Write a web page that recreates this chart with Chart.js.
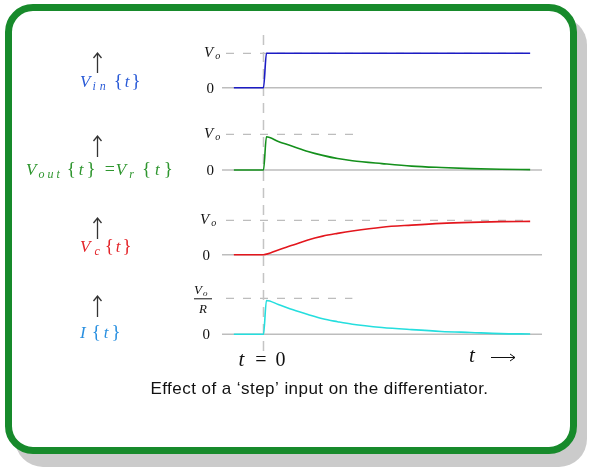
<!DOCTYPE html>
<html>
<head>
<meta charset="utf-8">
<script src="https://cdn.jsdelivr.net/npm/chart.js@4.4.1/dist/chart.umd.min.js"></script>
<style>
  body { margin: 0; background: #fff; }
  #wrap { position: relative; width: 592px; height: 473px; }
  #frame {
    position: absolute; left: 5px; top: 4px; width: 572px; height: 450px;
    box-sizing: border-box; border: 7px solid #178a2b; border-radius: 28px;
    background: #fff; box-shadow: 10px 13px 0 #cbcbcb;
  }
  #chart { position: absolute; left: 0; top: 0; }
</style>
</head>
<body>
<div id="wrap">
  <div id="frame"></div>
  <canvas id="chart" width="592" height="473"></canvas>
</div>
<script>
// time points (t = 0 is the step) and the four traces
const tStep = [-1, 0, 0.1, 9];
const vIn = [0, 0, 1, 1];

const tDecay = [-1, 0, 0.1, 0.5, 1, 1.5, 2, 2.5, 3, 4, 5, 6, 7, 8, 9];
const vOut = [0, 0, 0.93, 0.80, 0.66, 0.52, 0.41, 0.32, 0.26, 0.18, 0.11, 0.07, 0.04, 0.02, 0.01];
const iCur = [0, 0, 0.94, 0.83, 0.68, 0.55, 0.43, 0.35, 0.28, 0.19, 0.13, 0.08, 0.05, 0.02, 0.01];

const tCharge = [-1, 0, 0.5, 1, 1.5, 2, 2.5, 3, 4, 5, 6, 7, 8, 9];
const vC = [0, 0, 0.14, 0.28, 0.43, 0.54, 0.62, 0.69, 0.80, 0.86, 0.91, 0.94, 0.96, 0.97];

const caption = 'Effect of a \u2018step\u2019 input on the differentiator.';

function pts(xs, ys) {
  return xs.map((x, i) => ({ x: x, y: ys[i] }));
}

const SERIF = '"Liberation Serif", "DejaVu Serif", serif';
const fI = 'italic 17px ' + SERIF;   // italic symbol
const fS = 'italic 12px ' + SERIF;   // subscript
const fB = '19px ' + SERIF;          // braces

// draw a row of text pieces one after another
function drawParts(ctx, x, y, parts, color) {
  ctx.fillStyle = color;
  ctx.textAlign = 'left';
  ctx.textBaseline = 'alphabetic';
  let cx = x;
  for (const p of parts) {
    cx += p.gap || 0;
    ctx.font = p.f;
    ctx.fillText(p.s, cx, y + (p.dy || 0));
    cx += ctx.measureText(p.s).width;
  }
}

function upArrow(ctx, x, y0, y1) {
  ctx.save();
  ctx.strokeStyle = '#333';
  ctx.lineWidth = 1.3;
  ctx.beginPath();
  ctx.moveTo(x, y1); ctx.lineTo(x, y0);
  ctx.moveTo(x - 4, y0 + 5); ctx.lineTo(x, y0); ctx.lineTo(x + 4, y0 + 5);
  ctx.stroke();
  ctx.restore();
}

const panels = [
  { axis: 'yIn', dashTo: 9, labelX: 214 },
  { axis: 'yOut', dashTo: 3.1, labelX: 214 },
  { axis: 'yC', dashTo: 9, labelX: 210 },
  { axis: 'yI', dashTo: 3.0, labelX: 210, fraction: true }
];

const decor = {
  id: 'decor',
  beforeDatasetsDraw(chart) {
    const ctx = chart.ctx, a = chart.chartArea, xs = chart.scales.x;
    ctx.save();
    panels.forEach(p => {
      const ys = chart.scales[p.axis];
      // zero line
      ctx.strokeStyle = '#bdbdbd';
      ctx.lineWidth = 1.5;
      ctx.setLineDash([]);
      ctx.beginPath();
      ctx.moveTo(a.left, ys.getPixelForValue(0));
      ctx.lineTo(a.right, ys.getPixelForValue(0));
      ctx.stroke();
      // dashed level line at Vo
      ctx.lineWidth = 1.2;
      ctx.setLineDash([8, 9]);
      ctx.beginPath();
      ctx.moveTo(a.left + 4, ys.getPixelForValue(1));
      ctx.lineTo(xs.getPixelForValue(p.dashTo), ys.getPixelForValue(1));
      ctx.stroke();
    });
    // t = 0 marker
    ctx.strokeStyle = '#c4c4c4';
    ctx.lineWidth = 1.5;
    ctx.setLineDash([10, 7]);
    ctx.beginPath();
    ctx.moveTo(xs.getPixelForValue(0), a.top);
    ctx.lineTo(xs.getPixelForValue(0), a.bottom + 2);
    ctx.stroke();
    ctx.restore();
  },
  afterDraw(chart) {
    const ctx = chart.ctx, xs = chart.scales.x;
    ctx.save();
    // level labels
    panels.forEach(p => {
      const ys = chart.scales[p.axis];
      const y1 = ys.getPixelForValue(1), y0 = ys.getPixelForValue(0);
      ctx.fillStyle = '#111';
      ctx.textBaseline = 'middle';
      ctx.textAlign = 'right';
      ctx.font = '15px ' + SERIF;
      ctx.fillText('0', p.labelX, y0 + 1);
      if (p.fraction) {
        drawParts(ctx, p.labelX - 16, y1 - 4, [{ s: 'V', f: 'italic 13px ' + SERIF }, { s: 'o', f: 'italic 9px ' + SERIF, dy: 2, gap: 1 }], '#111');
        ctx.strokeStyle = '#111';
        ctx.lineWidth = 1;
        ctx.beginPath();
        ctx.moveTo(p.labelX - 16, y1 + 0.5);
        ctx.lineTo(p.labelX + 2, y1 + 0.5);
        ctx.stroke();
        drawParts(ctx, p.labelX - 11, y1 + 15, [{ s: 'R', f: 'italic 13px ' + SERIF }], '#111');
      } else {
        drawParts(ctx, p.labelX - 10, y1 + 4, [{ s: 'V', f: 'italic 15px ' + SERIF }, { s: 'o', f: 'italic 10px ' + SERIF, dy: 2, gap: 2 }], '#111');
      }
    });

    // signal names on the left
    upArrow(ctx, 97.5, 53, 73);
    drawParts(ctx, 80, 87, [
      { s: 'V', f: fI }, { s: 'i', f: fS, dy: 3, gap: 2 }, { s: 'n', f: fS, dy: 3, gap: 4 },
      { s: '{', f: fB, gap: 8 }, { s: 't', f: fI, gap: 2 }, { s: '}', f: fB, gap: 2 }
    ], '#2a5bd7');

    upArrow(ctx, 97.5, 136, 157);
    drawParts(ctx, 26, 175, [
      { s: 'V', f: fI }, { s: 'o', f: fS, dy: 3, gap: 2 }, { s: 'u', f: fS, dy: 3, gap: 3 }, { s: 't', f: fS, dy: 3, gap: 3 },
      { s: '{', f: fB, gap: 7 }, { s: 't', f: fI, gap: 3 }, { s: '}', f: fB, gap: 3 },
      { s: '=', f: '18px ' + SERIF, gap: 9 }, { s: 'V', f: fI, gap: 1 }, { s: 'r', f: fS, dy: 3, gap: 3 },
      { s: '{', f: fB, gap: 8 }, { s: 't', f: fI, gap: 4 }, { s: '}', f: fB, gap: 4 }
    ], '#2f962f');

    upArrow(ctx, 97.5, 218, 239);
    drawParts(ctx, 80, 252, [
      { s: 'V', f: fI }, { s: 'c', f: fS, dy: 3, gap: 4 },
      { s: '{', f: fB, gap: 5 }, { s: 't', f: fI, gap: 2 }, { s: '}', f: fB, gap: 2 }
    ], '#e4262b');

    upArrow(ctx, 97.5, 296, 317);
    drawParts(ctx, 80, 338, [
      { s: 'I', f: fI }, { s: '{', f: fB, gap: 6 }, { s: 't', f: fI, gap: 3 }, { s: '}', f: fB, gap: 3 }
    ], '#2a90e0');

    // time axis notes
    const x0 = xs.getPixelForValue(0);
    drawParts(ctx, x0 - 25, 366, [
      { s: 't', f: 'italic 21px ' + SERIF }, { s: '=', f: '20px ' + SERIF, gap: 11 }, { s: '0', f: '20px ' + SERIF, gap: 9 }
    ], '#111');
    drawParts(ctx, 469, 362, [{ s: 't', f: 'italic 21px ' + SERIF }], '#111');
    ctx.strokeStyle = '#111';
    ctx.lineWidth = 1;
    ctx.beginPath();
    ctx.moveTo(491, 357.5); ctx.lineTo(515, 357.5);
    ctx.moveTo(510, 354); ctx.lineTo(515, 357.5); ctx.lineTo(510, 361);
    ctx.stroke();

    ctx.font = '17px "Liberation Sans", Arial, sans-serif';
    ctx.letterSpacing = '0.45px';
    ctx.fillStyle = '#111';
    ctx.textAlign = 'center';
    ctx.textBaseline = 'alphabetic';
    ctx.fillText(caption, 319.5, 394);
    ctx.restore();
  }
};

function panelAxis(min, max, h, w) {
  return {
    type: 'linear', position: 'left', stack: 'panels', stackWeight: h, weight: w,
    min: min, max: max, display: false
  };
}

const chart = new Chart(document.getElementById('chart'), {
  type: 'line',
  data: {
    datasets: [
      { data: pts(tStep, vIn), yAxisID: 'yIn', borderColor: '#1c1cc4' },
      { data: pts(tDecay, vOut), yAxisID: 'yOut', borderColor: '#14901c' },
      { data: pts(tCharge, vC), yAxisID: 'yC', borderColor: '#e3161d' },
      { data: pts(tDecay, iCur), yAxisID: 'yI', borderColor: '#25dede' }
    ]
  },
  options: {
    responsive: false,
    animation: false,
    layout: { padding: { left: 222, right: 50, top: 35, bottom: 123 } },
    plugins: { legend: { display: false }, tooltip: { enabled: false } },
    elements: {
      point: { radius: 0 },
      line: { borderWidth: 1.6, cubicInterpolationMode: 'monotone' }
    },
    scales: {
      x: { type: 'linear', min: -1.4, max: 9.4, display: false },
      yIn: panelAxis(-0.706, 1.532, 77, 4),
      yOut: panelAxis(-0.756, 1.625, 85, 3),
      yC: panelAxis(-0.648, 1.677, 80, 2),
      yI: panelAxis(-0.436, 1.592, 73, 1)
    }
  },
  plugins: [decor]
});
</script>
</body>
</html>
